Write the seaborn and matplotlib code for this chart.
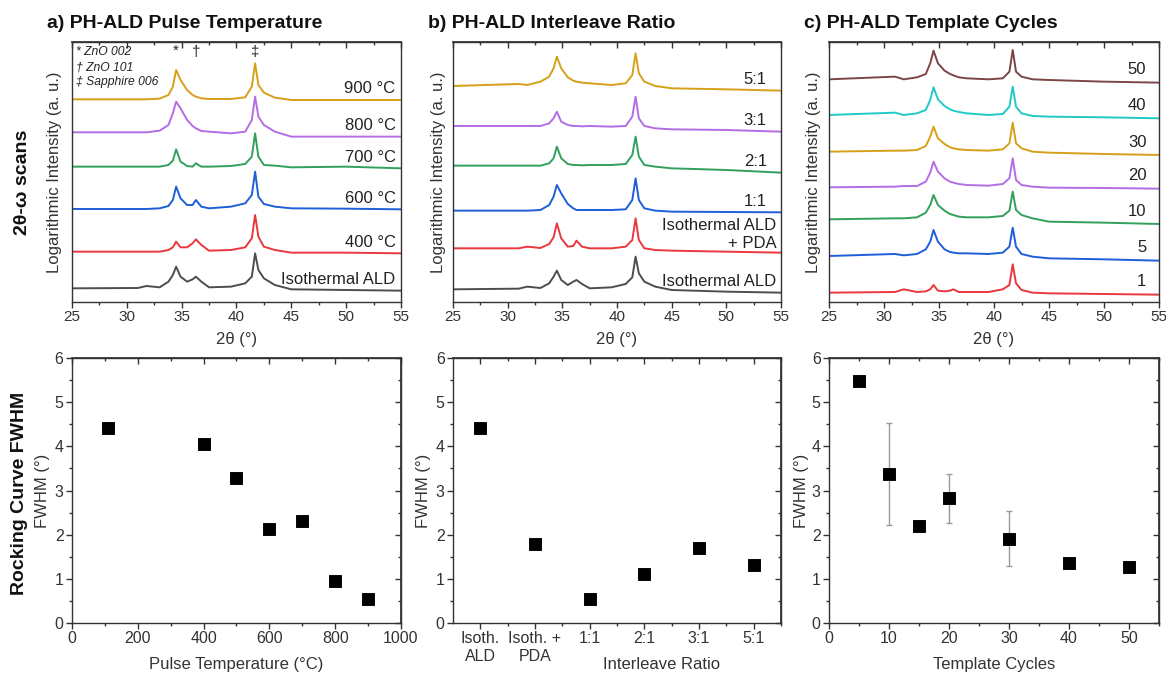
import numpy as np
import pandas as pd
import matplotlib
matplotlib.use("Agg")
import matplotlib.pyplot as plt
import seaborn as sns
from matplotlib.ticker import MultipleLocator, FixedLocator, NullFormatter

# --- 2theta-omega scans (stacked offsets, arbitrary units) ---
two_theta = [25, 31, 31.8, 33, 33.8, 34.2, 34.5, 34.9, 35.5, 36.0, 36.3, 36.8, 37.5,
             39.5, 40.8, 41.4, 41.7, 42.0, 42.5, 43.5, 45, 50, 55]

# a) pulse temperature
temp_labels = ["Isothermal ALD", "400 °C", "600 °C", "700 °C", "800 °C", "900 °C"]
a_isothermal = [41, 42, 48, 44, 61, 81, 106, 76, 61, 68, 76, 61, 44, 46, 56, 76, 146, 96, 71, 51, 38, 36, 34]
a_400 = [151, 151, 151, 151, 156, 164, 181, 164, 164, 176, 188, 171, 154, 156, 164, 191, 261, 196, 166, 156, 148, 148, 146]
a_600 = [279, 279, 279, 281, 288, 306, 346, 311, 291, 291, 306, 286, 281, 286, 296, 321, 391, 316, 294, 286, 281, 280, 278]
a_700 = [406, 406, 406, 406, 411, 424, 458, 421, 408, 406, 416, 406, 406, 408, 414, 436, 506, 436, 411, 409, 404, 406, 401]
a_800 = [509, 509, 509, 514, 531, 566, 601, 581, 546, 528, 521, 513, 511, 506, 511, 546, 616, 556, 531, 511, 496, 496, 496]
a_900 = [608, 608, 608, 610, 621, 646, 696, 666, 636, 621, 616, 611, 609, 609, 614, 646, 716, 651, 628, 613, 606, 606, 606]

# b) interleave ratio
ratio_trace_labels = ["Isothermal ALD", "Isothermal ALD\n+ PDA", "1:1", "2:1", "3:1", "5:1"]
b_isothermal = [38, 40, 46, 42, 56, 76, 94, 66, 51, 61, 66, 54, 41, 44, 54, 74, 136, 86, 61, 46, 36, 31, 28]
b_pda = [161, 161, 166, 162, 174, 194, 236, 191, 166, 168, 184, 166, 161, 161, 166, 186, 251, 186, 161, 156, 154, 151, 148]
b_1to1 = [274, 274, 274, 276, 291, 316, 351, 326, 294, 281, 276, 276, 276, 276, 278, 306, 371, 306, 281, 274, 271, 270, 269]
b_2to1 = [409, 409, 409, 409, 416, 431, 466, 431, 414, 411, 411, 410, 411, 411, 414, 441, 496, 436, 411, 406, 401, 396, 388]
b_3to1 = [528, 528, 528, 528, 536, 551, 571, 541, 531, 528, 528, 527, 528, 526, 528, 556, 616, 551, 528, 521, 518, 516, 511]
b_5to1 = [648, 654, 651, 661, 676, 701, 736, 701, 674, 664, 661, 658, 656, 651, 656, 681, 746, 686, 661, 648, 641, 638, 634]

# c) template cycles
cycle_trace_labels = ["1", "5", "10", "20", "30", "40", "50"]
c_1 = [28, 30, 38, 30, 32, 38, 51, 34, 32, 34, 38, 30, 30, 30, 38, 51, 113, 56, 36, 28, 26, 24, 22]
c_5 = [138, 144, 140, 144, 158, 181, 216, 181, 158, 150, 148, 146, 146, 144, 148, 166, 223, 166, 144, 136, 131, 128, 124]
c_10 = [248, 251, 251, 254, 268, 291, 321, 291, 274, 264, 261, 256, 254, 254, 258, 274, 331, 276, 261, 251, 241, 238, 234]
c_20 = [344, 346, 348, 348, 361, 388, 421, 391, 371, 361, 358, 354, 351, 349, 354, 371, 431, 366, 351, 346, 343, 342, 340]
c_30 = [451, 454, 454, 456, 468, 496, 526, 491, 474, 464, 461, 458, 456, 454, 458, 476, 538, 476, 461, 451, 448, 444, 441]
c_40 = [561, 568, 561, 566, 576, 606, 644, 608, 588, 578, 574, 570, 566, 561, 564, 586, 646, 586, 566, 558, 556, 554, 551]
c_50 = [668, 676, 668, 674, 684, 716, 754, 716, 694, 684, 680, 674, 671, 668, 671, 691, 756, 691, 676, 668, 666, 661, 658]

# --- rocking curve FWHM ---
pulse_temp = [110, 400, 500, 600, 700, 800, 900]
fwhm_temp = [4.42, 4.05, 3.28, 2.12, 2.32, 0.96, 0.55]
ratio_labels = ["Isoth.\nALD", "Isoth. +\nPDA", "1:1", "2:1", "3:1", "5:1"]
fwhm_ratio = [4.42, 1.78, 0.54, 1.11, 1.70, 1.32]
template_cycles = [5, 10, 15, 20, 30, 40, 50]
fwhm_cycles = [5.47, 3.37, 2.20, 2.82, 1.91, 1.37, 1.27]
fwhm_cycles_err = [0, 1.16, 0, 0.56, 0.62, 0, 0.12]

GRAY, RED, BLUE, GREEN = "#4d4d4d", "#e8383d", "#1e5fd8", "#31a05c"
PURPLE, GOLD, CYAN, BROWN = "#b46de3", "#d6a119", "#22c9c9", "#7d4545"
EDGE = "#333333"

sns.set_theme(style="ticks")
plt.rcParams["font.family"] = ["Liberation Sans", "DejaVu Sans"]
plt.rcParams["axes.edgecolor"] = EDGE
plt.rcParams["xtick.color"] = EDGE
plt.rcParams["ytick.color"] = EDGE


def stack_frame(labels, traces):
    rows = []
    for lab, vals in zip(labels, traces):
        for t, v in zip(two_theta, vals):
            rows.append((t, v, lab))
    return pd.DataFrame(rows, columns=["two_theta", "intensity", "sample"])


def style_frame(ax, xmaj, xmin, ymaj=None, ymin=None, labelsize=11):
    for sp in ax.spines.values():
        sp.set_visible(True)
        sp.set_color(EDGE)
        sp.set_linewidth(1.0)
    ax.xaxis.set_major_locator(xmaj)
    ax.xaxis.set_minor_locator(xmin)
    ax.tick_params(axis="x", which="both", direction="out", bottom=True, top=False, labelsize=labelsize,
                   labelcolor=EDGE, pad=2)
    ax.tick_params(which="major", length=4, width=1)
    ax.tick_params(which="minor", length=2.5, width=1)
    top = ax.secondary_xaxis("top")
    top.xaxis.set_major_locator(xmaj)
    top.xaxis.set_minor_locator(xmin)
    top.xaxis.set_major_formatter(NullFormatter())
    top.tick_params(which="both", direction="in", width=1)
    top.tick_params(which="major", length=4)
    top.tick_params(which="minor", length=2.5)
    top.spines["top"].set_color(EDGE)
    if ymaj is None:
        ax.tick_params(axis="y", which="both", left=False, right=False, labelleft=False)
    else:
        ax.yaxis.set_major_locator(ymaj)
        ax.yaxis.set_minor_locator(ymin)
        ax.tick_params(axis="y", which="both", direction="out", left=True, labelsize=labelsize,
                       labelcolor=EDGE, pad=2)
        right = ax.secondary_yaxis("right")
        right.yaxis.set_major_locator(ymaj)
        right.yaxis.set_minor_locator(ymin)
        right.yaxis.set_major_formatter(NullFormatter())
        right.tick_params(which="both", direction="in", width=1)
        right.tick_params(which="major", length=4)
        right.tick_params(which="minor", length=2.5)
        right.spines["right"].set_color(EDGE)


fig = plt.figure(figsize=(11.66, 6.75), dpi=100)

lefts = [0.0617, 0.3885, 0.7110]
widths = [0.2822, 0.2813, 0.2830]
top_axes = [fig.add_axes([l, 0.5526, w, 0.3852]) for l, w in zip(lefts, widths)]
bot_axes = [fig.add_axes([l, 0.0770, w, 0.3926]) for l, w in zip(lefts, widths)]

scan_sets = [
    (temp_labels, [a_isothermal, a_400, a_600, a_700, a_800, a_900],
     [GRAY, RED, BLUE, GREEN, PURPLE, GOLD], "a) PH-ALD Pulse Temperature", 33, -0.052),
    (ratio_trace_labels, [b_isothermal, b_pda, b_1to1, b_2to1, b_3to1, b_5to1],
     [GRAY, RED, BLUE, GREEN, PURPLE, GOLD], "b) PH-ALD Interleave Ratio", 33, -0.043),
    (cycle_trace_labels, [c_1, c_5, c_10, c_20, c_30, c_40, c_50],
     [RED, BLUE, GREEN, PURPLE, GOLD, CYAN, BROWN], "c) PH-ALD Template Cycles", 38, -0.048),
]

for i, (ax, (labels, traces, colors, title, lab_off, ylab_x)) in enumerate(zip(top_axes, scan_sets)):
    df = stack_frame(labels, traces)
    sns.lineplot(data=df, x="two_theta", y="intensity", hue="sample",
                 palette=dict(zip(labels, colors)), estimator=None, sort=False,
                 linewidth=1.4, legend=False, ax=ax)
    ax.set_xlim(25, 55)
    ax.set_ylim(0, 780)
    style_frame(ax, MultipleLocator(5), MultipleLocator(2.5))
    ax.set_xlabel("2θ (°)", fontsize=12, color=EDGE, va="center")
    ax.xaxis.set_label_coords(0.5, -0.146)
    ax.set_ylabel("Logarithmic Intensity (a. u.)", fontsize=12, color=EDGE, va="center")
    ax.yaxis.set_label_coords(ylab_x, 0.5)
    ax.text(-0.075, 1.073, title, transform=ax.transAxes, fontsize=14, fontweight="bold",
            ha="left", va="center", color="#111111")
    for lab, vals in zip(labels, traces):
        if i == 0:
            xr = 54.5
        elif i == 1:
            xr = 54.6 if lab.startswith("Isothermal") else 53.7
        else:
            xr = 53.85
        off = 55 if "\n" in lab else lab_off
        ax.text(xr, vals[-1] + off, lab, ha="right", va="center", multialignment="right",
                fontsize=12, color="#222222")

# peak key in panel a
ax = top_axes[0]
ax.text(0.012, 0.983, "* ZnO 002\n† ZnO 101\n‡ Sapphire 006", transform=ax.transAxes,
        ha="left", va="top", fontsize=8.7, style="italic", linespacing=1.3, color="#222222")
peak_tf = ax.get_xaxis_transform()
for pos, sym, yy in [(34.5, "*", 0.965), (36.3, "†", 0.963), (41.7, "‡", 0.963)]:
    ax.text(pos, yy, sym, transform=peak_tf, ha="center", va="center", fontsize=11, color="#222222")

# --- rocking curve panels ---
MS = 68
ax = bot_axes[0]
sns.scatterplot(x=pulse_temp, y=fwhm_temp, marker="s", s=MS, color="black", edgecolor="black", ax=ax, zorder=3)
ax.set_xlim(0, 1000)
ax.set_ylim(0, 6)
style_frame(ax, MultipleLocator(200), MultipleLocator(100), MultipleLocator(1), MultipleLocator(0.5), labelsize=11.5)
ax.set_xlabel("Pulse Temperature (°C)", fontsize=12, color=EDGE, va="center")
ax.xaxis.set_label_coords(0.5, -0.158)
ax.set_ylabel("FWHM (°)", fontsize=12, color=EDGE, va="center")
ax.yaxis.set_label_coords(-0.088, 0.5)

ax = bot_axes[1]
ratio_pos = np.arange(len(ratio_labels))
sns.scatterplot(x=ratio_pos, y=fwhm_ratio, marker="s", s=MS, color="black", edgecolor="black", ax=ax, zorder=3)
ax.set_xlim(-0.5, len(ratio_labels) - 0.5)
ax.set_ylim(0, 6)
style_frame(ax, FixedLocator(ratio_pos), FixedLocator(ratio_pos + 0.5), MultipleLocator(1), MultipleLocator(0.5),
            labelsize=11.5)
ax.set_xticks(ratio_pos, ratio_labels)
ax.set_xlabel("Interleave Ratio", fontsize=12, color=EDGE, va="center")
ax.xaxis.set_label_coords(0.637, -0.158)
ax.set_ylabel("FWHM (°)", fontsize=12, color=EDGE, va="center")
ax.yaxis.set_label_coords(-0.091, 0.5)

ax = bot_axes[2]
ax.errorbar(template_cycles, fwhm_cycles, yerr=fwhm_cycles_err, fmt="none", ecolor="#999999",
            elinewidth=1, capsize=2.5, capthick=1, zorder=2)
sns.scatterplot(x=template_cycles, y=fwhm_cycles, marker="s", s=MS, color="black", edgecolor="black", ax=ax, zorder=3)
ax.set_xlim(0, 55)
ax.set_ylim(0, 6)
style_frame(ax, MultipleLocator(10), MultipleLocator(5), MultipleLocator(1), MultipleLocator(0.5), labelsize=11.5)
ax.set_xlabel("Template Cycles", fontsize=12, color=EDGE, va="center")
ax.xaxis.set_label_coords(0.5, -0.158)
ax.set_ylabel("FWHM (°)", fontsize=12, color=EDGE, va="center")
ax.yaxis.set_label_coords(-0.082, 0.5)

# row labels
fig.text(0.0189, 0.7304, "2θ-ω scans", rotation=90, ha="center", va="center", fontsize=14, fontweight="bold",
         color="#111111")
fig.text(0.0163, 0.2696, "Rocking Curve FWHM", rotation=90, ha="center", va="center", fontsize=14,
         fontweight="bold", color="#111111")

fig.savefig("out.png", dpi=100)
